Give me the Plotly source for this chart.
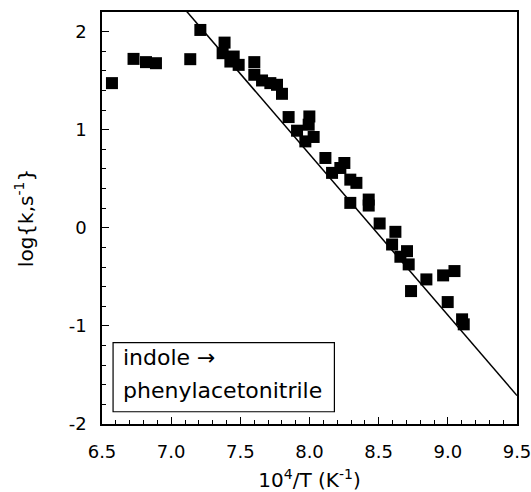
import plotly.graph_objects as go

inv_T = [6.572, 6.728, 6.818, 6.890, 7.138, 7.211, 7.386, 7.372, 7.452, 7.428,
         7.488, 7.601, 7.601, 7.657, 7.717, 7.765, 7.801, 7.849, 7.999, 7.994,
         7.910, 8.030, 7.970, 8.115, 8.252, 8.223, 8.163, 8.295, 8.339, 8.295,
         8.428, 8.428, 8.507, 8.621, 8.597, 8.705, 8.657, 8.717, 8.845, 8.966,
         9.048, 8.734, 8.999, 9.103, 9.115]
log_k = [1.475, 1.722, 1.689, 1.678, 1.719, 2.017, 1.888, 1.780, 1.746, 1.695,
         1.661, 1.689, 1.560, 1.502, 1.475, 1.458, 1.366, 1.129, 1.135, 1.051,
         0.990, 0.926, 0.881, 0.712, 0.661, 0.610, 0.560, 0.491, 0.458, 0.254,
         0.288, 0.227, 0.044, -0.041, -0.170, -0.238, -0.295, -0.373, -0.526, -0.485,
         -0.441, -0.645, -0.757, -0.933, -0.984]

# Arrhenius fit line end points
fit_x = [7.0, 9.5]
fit_y = [2.39, -1.71]

x_ticks = [6.5, 7.0, 7.5, 8.0, 8.5, 9.0, 9.5]
x_labels = ["6.5", "7.0", "7.5", "8.0", "8.5", "9.0", "9.5"]
y_ticks = [-2, -1, 0, 1, 2]
y_labels = ["-2", "-1", "0", "1", "2"]

FONT = "DejaVu Sans, Arial, sans-serif"

fig = go.Figure()

fig.add_trace(go.Scatter(x=fit_x, y=fit_y, mode="lines",
                         line=dict(color="black", width=1.5),
                         hoverinfo="skip"))

fig.add_trace(go.Scatter(x=inv_T, y=log_k, mode="markers",
                         marker=dict(symbol="square", size=12, color="black",
                                     line=dict(width=0))))

# label box in the lower left corner
fig.add_shape(type="rect", x0=6.58, x1=8.18, y0=-1.875, y1=-1.17,
              xref="x", yref="y", line=dict(color="black", width=1.2),
              fillcolor="white", layer="above")
fig.add_annotation(x=6.64, y=-1.32, xref="x", yref="y", text="indole →",
                   showarrow=False, xanchor="left", yanchor="middle",
                   font=dict(family=FONT, size=22, color="black"))
fig.add_annotation(x=6.64, y=-1.655, xref="x", yref="y", text="phenylacetonitrile",
                   showarrow=False, xanchor="left", yanchor="middle",
                   font=dict(family=FONT, size=22, color="black"))

fig.update_layout(
    width=531, height=492,
    margin=dict(l=102, r=14, t=12, b=68),
    paper_bgcolor="white", plot_bgcolor="white",
    showlegend=False,
    font=dict(family=FONT, size=18, color="black"),
    xaxis=dict(range=[6.5, 9.5], tickmode="array", tickvals=x_ticks, ticktext=x_labels,
               ticks="inside", ticklen=7, tickwidth=1, tickcolor="black",
               tickfont=dict(size=18, color="black"), ticklabelstandoff=11,
               ticklabeloverflow="allow", automargin=False,
               minor=dict(dtick=0.1, tick0=6.5, ticks="inside", ticklen=4,
                          tickwidth=1, tickcolor="black"),
               showline=True, linecolor="black", linewidth=1.5, mirror=True,
               showgrid=False, zeroline=False,
               title=dict(text="10<sup>4</sup>/T (K<sup>-1</sup>)",
                          font=dict(size=20, color="black"), standoff=16)),
    yaxis=dict(range=[-2, 2.2], tickmode="array", tickvals=y_ticks, ticktext=y_labels,
               ticks="inside", ticklen=7, tickwidth=1, tickcolor="black",
               tickfont=dict(size=18, color="black"), ticklabelstandoff=10,
               automargin=False,
               minor=dict(dtick=0.2, tick0=0, ticks="inside", ticklen=4,
                          tickwidth=1, tickcolor="black"),
               showline=True, linecolor="black", linewidth=1.5, mirror=True,
               showgrid=False, zeroline=False,
               title=dict(text="log{k,s<sup>-1</sup>}",
                          font=dict(size=20, color="black"), standoff=30)),
)

# drop the default page margin so the figure fills the window exactly
fig.write_html("out.html", config={"displayModeBar": False},
               post_script="document.body.style.margin='0';"
                           "document.body.style.overflow='hidden';")
